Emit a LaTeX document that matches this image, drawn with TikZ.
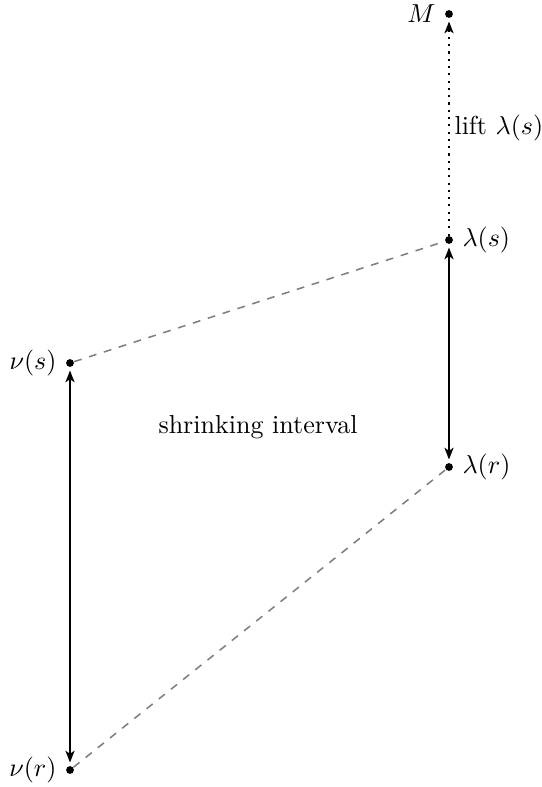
\documentclass[tikz,border=0pt]{standalone}
\usetikzlibrary{arrows.meta}
\begin{document}
\begin{tikzpicture}[x=0.3846pt,y=-0.3846pt,
  dot/.style={circle,fill=black,inner sep=0pt,minimum size=3pt},
  lbl/.style={inner sep=0pt},
  mainarrow/.style={{Stealth[length=4.5pt,width=3.5pt,inset=1.2pt]}-{Stealth[length=4.5pt,width=3.5pt,inset=1.2pt]},thick,shorten <=1.2pt,shorten >=1.2pt},
  liftarrow/.style={-{Stealth[length=4.5pt,width=3.5pt,inset=1.2pt]},thick,dotted,shorten >=1.2pt},
  guide/.style={dashed,gray,semithick}]
\useasboundingbox (0,0) rectangle (542,787);
\node[dot] (M) at (449,14) {};
\node[dot] (ls) at (449,240) {};
\node[dot] (lr) at (449,467) {};
\node[dot] (vs) at (70,363) {};
\node[dot] (vr) at (70,770) {};
\node[lbl,anchor=east] (Mt) at ([xshift=-5pt]M.center) {$M$};
\node[lbl,anchor=west] (lst) at ([xshift=5pt]ls.center) {$\lambda(s)$};
\node[lbl,anchor=west] (lrt) at ([xshift=5pt]lr.center) {$\lambda(r)$};
\node[lbl,anchor=east] (vst) at ([xshift=-5pt]vs.center) {$\nu(s)$};
\node[lbl,anchor=east] (vrt) at ([xshift=-5pt]vr.center) {$\nu(r)$};
\node[lbl,anchor=west] (lift) at (454,128) {lift $\lambda(s)$};
\node[lbl] (shr) at (258,427) {shrinking interval};
\draw[guide] (vs) -- (ls);
\draw[guide] (vr) -- (lr);
\draw[mainarrow] (ls) -- (lr);
\draw[mainarrow] (vs) -- (vr);
\draw[liftarrow] (ls) -- (M);
\end{tikzpicture}
\end{document}
